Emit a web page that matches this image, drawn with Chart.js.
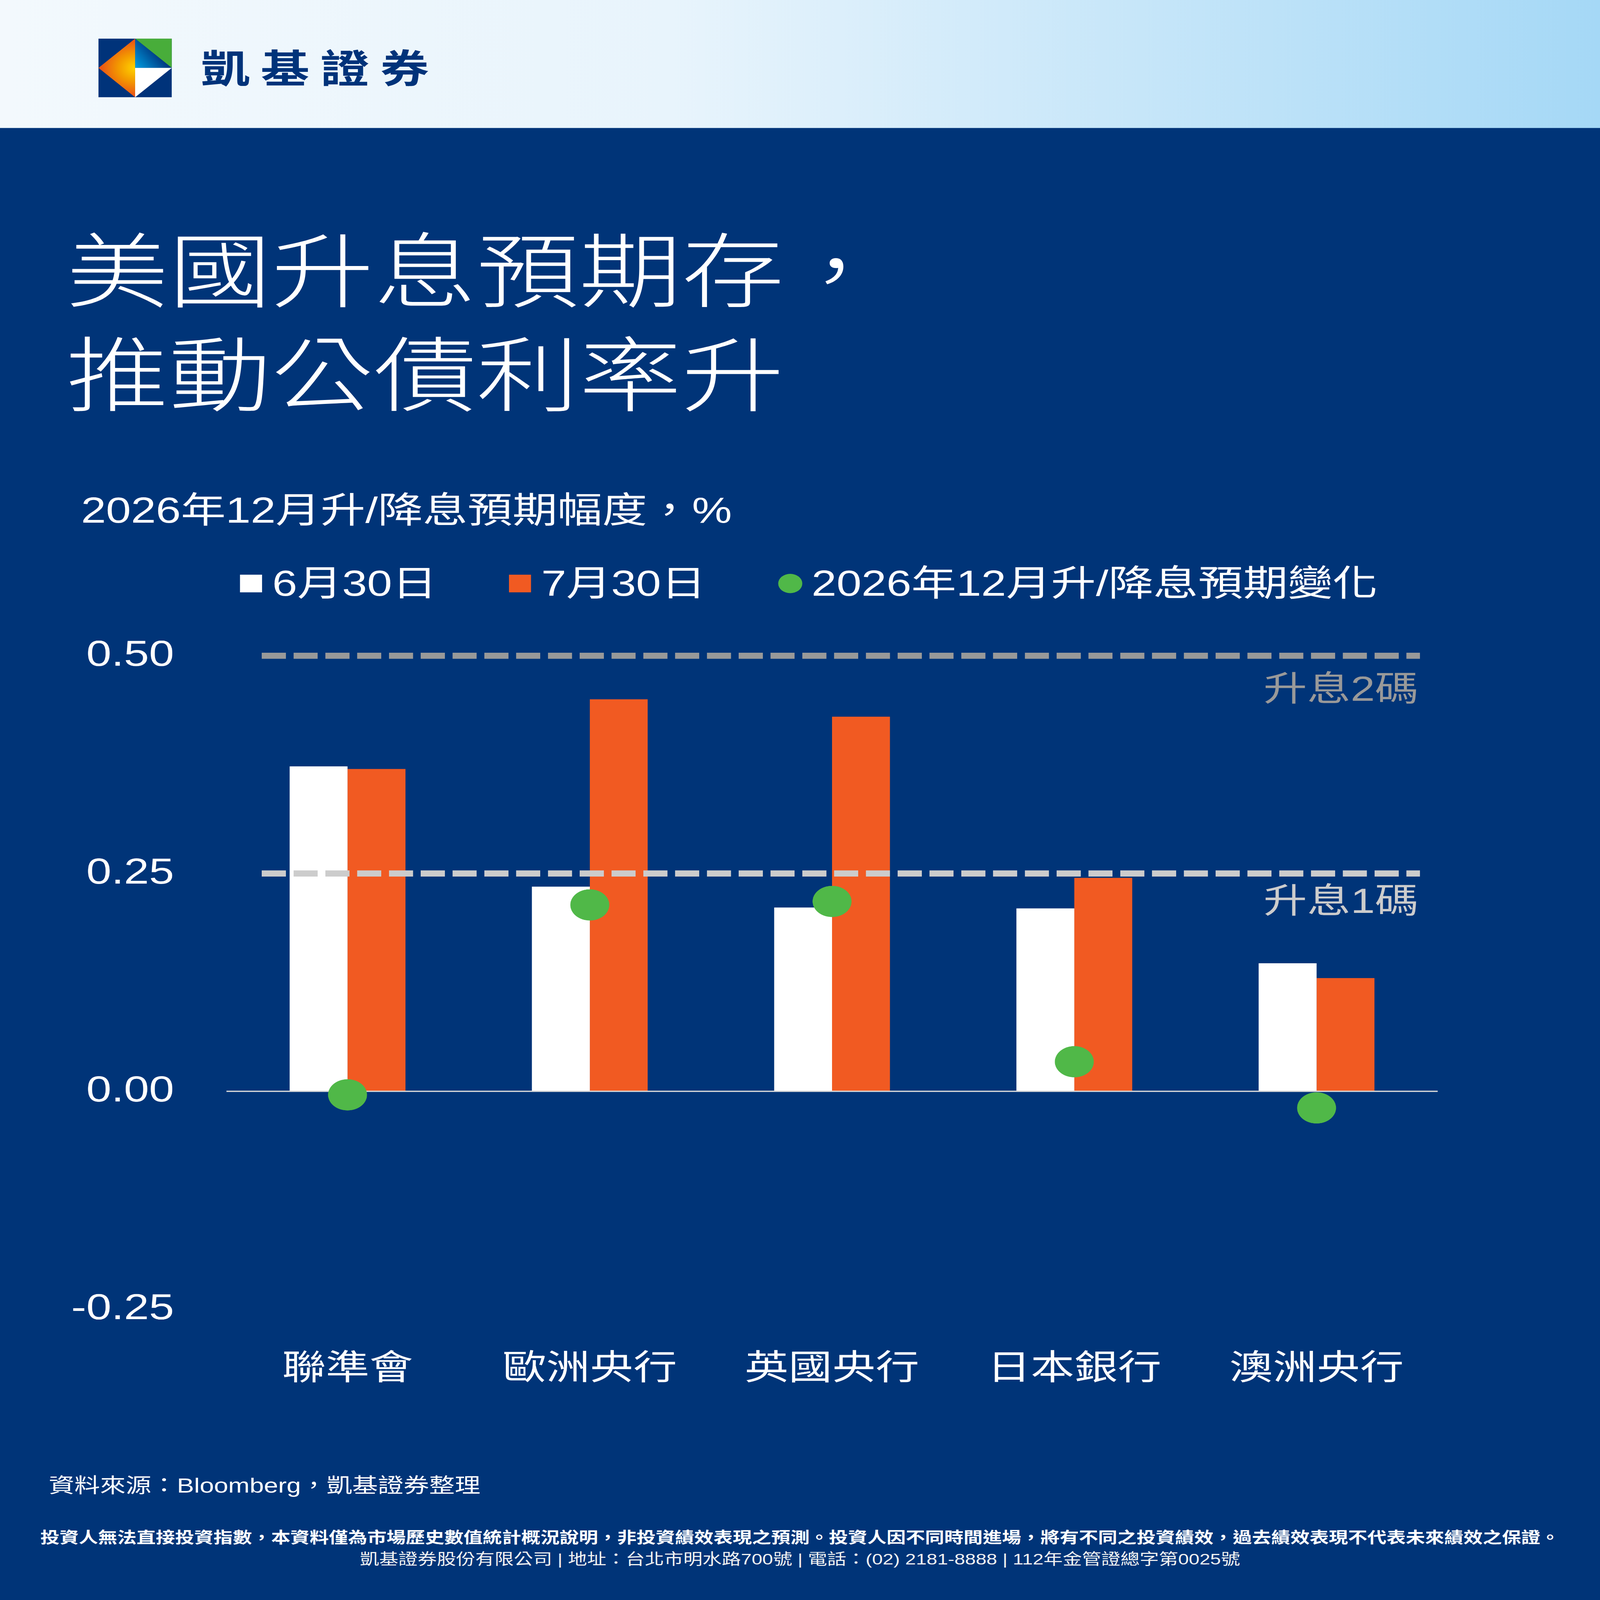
<!DOCTYPE html>
<html lang="zh-Hant">
<head>
<meta charset="UTF-8">
<title>美國升息預期存，推動公債利率升</title>
<script src="https://cdn.jsdelivr.net/npm/chart.js@4"></script>
<style>
  html, body { margin: 0; padding: 0; overflow: hidden; background: #003478; }
  #page {
    width: 6240px; height: 7801px; position: absolute; left: 0; top: 0; overflow: hidden;
    background: #003478; color: #fff; transform-origin: 0 0;
    font-family: "Liberation Sans", "Noto Sans CJK TC", sans-serif;
  }
  .header {
    position: absolute; left: 0; top: 0; width: 6240px; height: 624px;
    background: linear-gradient(90deg, #f3f9fd 0%, #e8f4fc 42%, #a5d8f6 100%);
  }
  .logo { position: absolute; left: 384px; top: 188px; }
  .brand {
    position: absolute; left: 784px; top: 227px;
    font-family: "Noto Sans CJK TC", sans-serif; font-weight: 700;
    font-size: 190px; line-height: 190px; letter-spacing: 43px; color: #00337a;
  }
  .title {
    position: absolute; left: 258px; top: 1040px;
    font-family: "Noto Sans CJK TC", sans-serif; font-weight: 300;
    font-size: 400px; line-height: 507px; white-space: nowrap;
  }
  .subtitle {
    position: absolute; left: 316px; top: 2385px;
    font-size: 175px; line-height: 206px; white-space: nowrap;
  }
  .legend .item {
    position: absolute; top: 2742px; height: 206px;
    display: flex; align-items: center;
    font-size: 175px; line-height: 206px; white-space: nowrap;
  }
  .legend .mark { width: 86px; height: 86px; margin-right: 40px; }
  .legend .mark.dot { width: 94px; height: 94px; border-radius: 50%; margin-right: 36px; }
  #chart { position: absolute; left: 0; top: 2887px; }
  .source {
    position: absolute; left: 190px; top: 7186px;
    font-size: 100px; line-height: 114px; white-space: nowrap;
  }
  .note {
    position: absolute; left: 0; width: 6240px; text-align: center; white-space: nowrap;
  }
  .note1 { top: 7451px; font-size: 75px; line-height: 90px; font-weight: 700; }
  .note2 { top: 7559px; font-size: 75px; line-height: 86px; color: #f2f2f2; }
</style>
</head>
<body>
<div id="page">
  <div class="header">
    <svg class="logo" viewBox="0 0 100 100" width="286" height="286">
      <defs>
        <radialGradient id="gOr" cx="50" cy="50" r="52" gradientUnits="userSpaceOnUse">
          <stop offset="0" stop-color="#ffd400"/>
          <stop offset="0.45" stop-color="#f39800"/>
          <stop offset="1" stop-color="#e8461a"/>
        </radialGradient>
        <linearGradient id="gBl" x1="50" y1="50" x2="82" y2="28" gradientUnits="userSpaceOnUse">
          <stop offset="0" stop-color="#009fe3"/>
          <stop offset="1" stop-color="#003a82"/>
        </linearGradient>
      </defs>
      <rect width="100" height="100" fill="#00337a"/>
      <polygon points="50,0 0,50 50,100" fill="url(#gOr)"/>
      <polygon points="50,0 100,0 100,50" fill="#48ad3a"/>
      <polygon points="50,0 100,50 50,50" fill="url(#gBl)"/>
      <polygon points="50,50 100,50 50,100" fill="#ffffff"/>
    </svg>
    <div class="brand">凱基證券</div>
  </div>

  <div class="title">美國升息預期存，<br>推動公債利率升</div>
  <div class="subtitle">2026年12月升/降息預期幅度，%</div>
  <div class="legend" id="legend"></div>

  <canvas id="chart" width="6240" height="3963"></canvas>

  <div class="source">資料來源：Bloomberg，凱基證券整理</div>
  <div class="note note1">投資人無法直接投資指數，本資料僅為市場歷史數值統計概況說明，非投資績效表現之預測。投資人因不同時間進場，將有不同之投資績效，過去績效表現不代表未來績效之保證。</div>
  <div class="note note2">凱基證券股份有限公司 | 地址：台北市明水路700號 | 電話：(02) 2181-8888 | 112年金管證總字第0025號</div>
</div>

<script>
// data
const categories = ['聯準會', '歐洲央行', '英國央行', '日本銀行', '澳洲央行'];
const seriesNames = ['6月30日', '7月30日', '2026年12月升/降息預期變化'];
const june30 = [0.373, 0.235, 0.211, 0.210, 0.147];
const july30 = [0.370, 0.450, 0.430, 0.245, 0.130];
const change = [-0.004, 0.214, 0.218, 0.034, -0.019];
const yTicks = [-0.25, 0, 0.25, 0.5];
const refLevels = [0.5, 0.25];
const refLabels = ['升息2碼', '升息1碼'];

const colors = ['#ffffff', '#f15a22', '#50b848'];
const refColors = ['#999999', '#cccccc'];
const refStart = 0.146, refEnd = 4.927;   // in category units on the hidden axis
const labelOffsets = [173, 145];
const legendLeft = [936, 1985, 3035];

// stretch the 6240x7801 page over whatever viewport we get
const page = document.getElementById('page');
const sx = window.innerWidth / 6240, sy = window.innerHeight / 7801;
page.style.transform = 'scale(' + sx + ',' + sy + ')';

// legend (html)
const legend = document.getElementById('legend');
seriesNames.forEach(function (name, i) {
    const item = document.createElement('div');
    item.className = 'item';
    item.style.left = legendLeft[i] + 'px';
    const mark = document.createElement('span');
    mark.className = i === 2 ? 'mark dot' : 'mark';
    mark.style.background = colors[i];
    const txt = document.createElement('span');
    txt.textContent = name;
    item.appendChild(mark);
    item.appendChild(txt);
    legend.appendChild(item);
});

// dashed "升息n碼" lines: drawn through the scales, after the bars and before the dots
let barsDrawn = 0;
const refLinePlugin = {
    id: 'refLines',
    beforeDatasetsDraw() { barsDrawn = 0; },
    afterDatasetDraw(chart, args) {
        if (args.meta.type !== 'bar') return;
        barsDrawn++;
        if (barsDrawn < 2) return;
        const ctx = chart.ctx;
        const xl = chart.scales.xl, y = chart.scales.y;
        const x0 = xl.getPixelForValue(refStart), x1 = xl.getPixelForValue(refEnd);
        ctx.save();
        ctx.lineWidth = 30;
        ctx.setLineDash([94, 30]);
        refLevels.forEach(function (lvl, i) {
            const py = y.getPixelForValue(lvl);
            ctx.strokeStyle = refColors[i];
            ctx.beginPath();
            ctx.moveTo(x0, py);
            ctx.lineTo(x1, py);
            ctx.stroke();
        });
        ctx.setLineDash([]);
        ctx.font = '170px "Liberation Sans", "Noto Sans CJK TC", sans-serif';
        ctx.textAlign = 'right';
        ctx.textBaseline = 'middle';
        refLevels.forEach(function (lvl, i) {
            ctx.fillStyle = refColors[i];
            ctx.fillText(refLabels[i], x1 - 6, y.getPixelForValue(lvl) + labelOffsets[i]);
        });
        ctx.restore();
    }
};

new Chart(document.getElementById('chart'), {
    type: 'bar',
    data: {
        labels: categories,
        datasets: [
            {
                label: seriesNames[0],
                data: june30,
                backgroundColor: colors[0],
                borderWidth: 0,
                categoryPercentage: 0.478,
                barPercentage: 1.0,
                order: 3
            },
            {
                label: seriesNames[1],
                data: july30,
                backgroundColor: colors[1],
                borderWidth: 0,
                categoryPercentage: 0.478,
                barPercentage: 1.0,
                order: 3
            },
            {
                type: 'line',
                label: seriesNames[2],
                data: change,
                showLine: false,
                pointRadius: 76,
                pointHoverRadius: 76,
                pointBackgroundColor: colors[2],
                pointBorderWidth: 0,
                order: 1
            }
        ]
    },
    options: {
        responsive: false,
        devicePixelRatio: 1,
        animation: false,
        layout: { padding: { top: 310, right: 633, left: 0, bottom: 0 } },
        plugins: {
            legend: { display: false },
            tooltip: { enabled: false }
        },
        scales: {
            x: {
                type: 'category',
                offset: true,
                grid: { display: false },
                border: { display: false },
                ticks: {
                    color: '#ffffff',
                    padding: 168,
                    font: { family: '"Noto Sans CJK TC", sans-serif', size: 170 }
                },
                afterFit: function (s) { s.height = 467; }
            },
            xl: {
                type: 'linear',
                display: false,
                offset: false,
                min: 0,
                max: 5
            },
            y: {
                min: -0.25,
                max: 0.5,
                border: { display: false },
                grid: {
                    drawTicks: false,
                    lineWidth: 6,
                    color: function (c) { return c.tick && c.tick.value === 0 ? '#d9d9d9' : 'rgba(0,0,0,0)'; }
                },
                ticks: {
                    color: '#ffffff',
                    padding: 204,
                    font: { family: '"Liberation Sans", sans-serif', size: 176 },
                    callback: function (v) { return Number(v).toFixed(2); }
                },
                afterBuildTicks: function (s) { s.ticks = yTicks.map(function (v) { return { value: v }; }); },
                afterFit: function (s) { s.width = 883; }
            }
        }
    },
    plugins: [refLinePlugin]
});
</script>
</body>
</html>
